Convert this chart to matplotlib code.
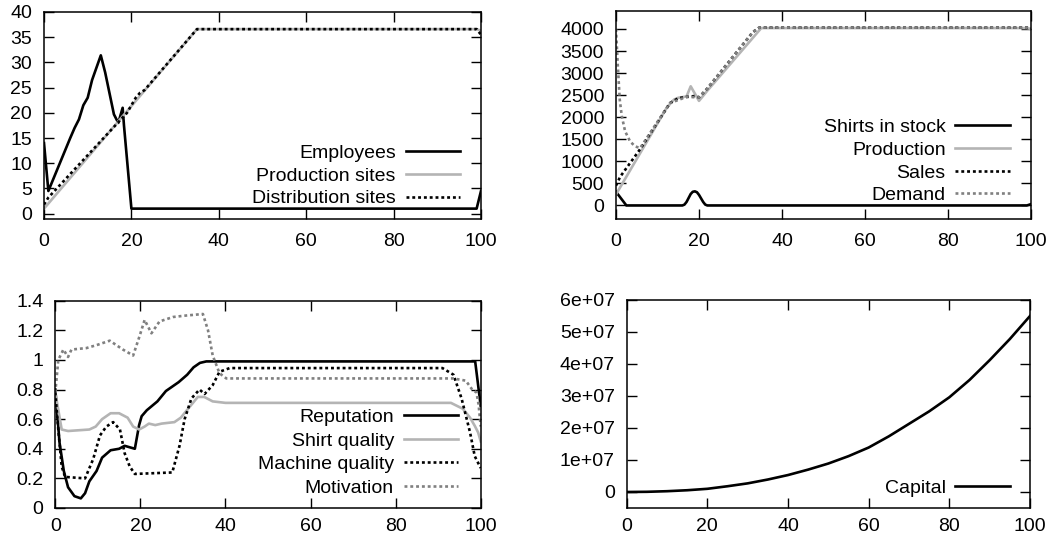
import matplotlib
matplotlib.use("Agg")
import matplotlib.pyplot as plt

plt.rcParams['font.family'] = ['Liberation Sans', 'DejaVu Sans']
plt.rcParams['font.size'] = 14

# --- staff and sites ---
emp_x = [0, 1, 6, 7, 8, 9, 10, 11, 13, 14, 16, 17, 18, 18.3, 20, 99, 100]
emp_y = [14, 4.5, 15, 17, 18.7, 21.5, 23, 26.5, 31.4, 28, 19.7, 18, 21, 17.5, 1, 1, 4.5]
psite_x = [0, 35, 99, 100]
psite_y = [1, 36.6, 36.6, 36.3]
dsite_x = [0, 1, 19, 20, 21, 22, 23, 35, 99, 100]
dsite_y = [1.8, 3.2, 20, 21.5, 23, 24, 24.5, 36.6, 36.6, 35.5]

# --- shirts ---
stock_x = [0, 2.5, 16, 16.5, 17, 17.5, 18, 18.5, 19, 19.5, 20, 20.5, 21, 21.5, 22, 99, 100]
stock_y = [310, 0, 0, 20, 80, 170, 260, 310, 320, 300, 240, 160, 80, 20, 0, 0, 30]
prod_x = [0, 12, 13, 14, 15, 17, 18, 20, 22, 35, 99, 100]
prod_y = [250, 2180, 2300, 2400, 2440, 2470, 2700, 2370, 2600, 4020, 4020, 4000]
sales_x = [0, 1, 6, 13, 15, 17, 19, 20, 21, 22, 33, 34.5, 99, 100]
sales_y = [450, 650, 1300, 2320, 2430, 2460, 2480, 2450, 2550, 2650, 3930, 4030, 4030, 4020]
demand_x = [0, 0.4, 0.9, 1.4, 2.2, 3.4, 4.6, 5.8, 13, 17, 20, 22, 33, 34.5, 99, 100]
demand_y = [4000, 3230, 2400, 2020, 1680, 1450, 1340, 1300, 2320, 2460, 2450, 2650, 3930, 4030, 4030, 4000]

# --- quality indicators ---
rep_x = [0, 1, 2, 3, 4.5, 6, 7, 8, 9.7, 11, 13, 15, 16.3, 18.7, 19.7, 20.3, 21.5, 24, 26, 29, 31,
         32.5, 34, 35.5, 98.7, 100]
rep_y = [0.80, 0.44, 0.25, 0.14, 0.08, 0.065, 0.10, 0.18, 0.25, 0.34, 0.39, 0.40, 0.42, 0.40, 0.56,
         0.62, 0.66, 0.72, 0.79, 0.85, 0.90, 0.95, 0.98, 0.99, 0.99, 0.69]
sq_x = [0, 1.5, 3, 8, 9.5, 11, 13, 15, 17, 18.3, 19.7, 21, 22, 23.5, 25, 28, 29.5, 31.5, 33.5, 35,
        37, 40, 93, 95.8, 97.5, 98.6, 99.4, 100]
sq_y = [0.78, 0.53, 0.52, 0.53, 0.55, 0.60, 0.64, 0.64, 0.61, 0.55, 0.53, 0.55, 0.57, 0.56, 0.57,
        0.58, 0.61, 0.68, 0.75, 0.75, 0.72, 0.71, 0.71, 0.67, 0.61, 0.555, 0.51, 0.45]
mq_x = [0, 0.7, 1.5, 2.3, 7, 8.9, 10.5, 12, 13.6, 15.2, 16.3, 17.5, 18.7, 27.5, 29.2, 30.4, 32,
        33.9, 35.1, 37, 38.6, 41, 91, 93.6, 95.5, 97.5, 98.6, 100]
mq_y = [0.78, 0.53, 0.28, 0.21, 0.20, 0.33, 0.49, 0.55, 0.58, 0.53, 0.37, 0.28, 0.23, 0.24, 0.42,
        0.60, 0.74, 0.80, 0.77, 0.83, 0.92, 0.945, 0.945, 0.90, 0.74, 0.51, 0.35, 0.27]
mot_x = [0, 0.7, 1.9, 3, 3.8, 7.3, 9.7, 12.8, 15.9, 18.3, 19.8, 21, 22.6, 24.5, 27.7, 30.8, 34.7,
         35.9, 37, 38.6, 40.2, 93.5, 96.5, 98, 99, 99.5, 100]
mot_y = [0.78, 1.0, 1.07, 1.02, 1.07, 1.08, 1.10, 1.13, 1.07, 1.03, 1.16, 1.27, 1.18, 1.26, 1.29,
         1.30, 1.31, 1.20, 1.03, 0.91, 0.875, 0.875, 0.86, 0.80, 0.78, 0.70, 0.55]

# --- money ---
cap_x = [0, 5, 10, 15, 20, 25, 30, 35, 40, 45, 50, 55, 60, 65, 70, 75, 80, 85, 90, 95, 100]
cap_y = [0, 0.06e6, 0.25e6, 0.55e6, 1.0e6, 1.8e6, 2.7e6, 3.9e6, 5.3e6, 7.0e6, 8.9e6, 11.2e6,
         13.9e6, 17.4e6, 21.3e6, 25.2e6, 29.6e6, 35.0e6, 41.2e6, 47.8e6, 55.0e6]

x_ticks = [0, 20, 40, 60, 80, 100]

BLACK = '#000000'
LGRAY = '#b4b4b4'
DGRAY = '#808080'
LW = 1.9
DOTS = (0, (1.1, 1.1))


def style(ax, ylim, yticks, xpad):
    ax.set_xlim(0, 100)
    ax.set_ylim(*ylim)
    ax.set_xticks(x_ticks)
    ax.set_yticks(yticks)
    ax.tick_params(direction='in', length=7, width=1.0, top=True, right=True, labelsize=14)
    ax.tick_params(axis='x', pad=xpad)
    ax.tick_params(axis='y', pad=8.5)
    for s in ax.spines.values():
        s.set_linewidth(1.1)


def key(ax, x, y, spacing):
    ax.legend(loc='lower right', bbox_to_anchor=(x, y), frameon=False, markerfirst=False,
              handlelength=2.8, handletextpad=0.5, labelspacing=spacing,
              borderpad=0, borderaxespad=0, fontsize=14)


fig = plt.figure(figsize=(10.52, 5.46), dpi=100)
W, H = 1052, 546
ax1 = fig.add_axes([44 / W, 1 - 218.7 / H, (481 - 44) / W, (218.7 - 12) / H])
ax2 = fig.add_axes([616 / W, 1 - 218.7 / H, (1031 - 616) / W, (218.7 - 11.3) / H])
ax3 = fig.add_axes([55.3 / W, 1 - 508 / H, (480.7 - 55.3) / W, (508 - 300.7) / H])
ax4 = fig.add_axes([626.7 / W, 1 - 508 / H, (1030 - 626.7) / W, (508 - 300) / H])

ax1.plot(emp_x, emp_y, color=BLACK, lw=LW, label='Employees')
ax1.plot(psite_x, psite_y, color=LGRAY, lw=LW, label='Production sites')
ax1.plot(dsite_x, dsite_y, color=BLACK, lw=LW, ls=DOTS, label='Distribution sites')
style(ax1, (-1, 40), range(0, 41, 5), 10)
key(ax1, 0.952, 0.055, 0.26)

ax2.plot(stock_x, stock_y, color=BLACK, lw=LW, label='Shirts in stock')
ax2.plot(prod_x, prod_y, color=LGRAY, lw=LW, label='Production')
ax2.plot(sales_x, sales_y, color=BLACK, lw=LW, ls=DOTS, label='Sales')
ax2.plot(demand_x, demand_y, color=DGRAY, lw=LW, ls=DOTS, label='Demand')
style(ax2, (-300, 4400), range(0, 4001, 500), 10)
key(ax2, 0.949, 0.07, 0.26)

ax3.plot(rep_x, rep_y, color=BLACK, lw=LW, label='Reputation')
ax3.plot(sq_x, sq_y, color=LGRAY, lw=LW, label='Shirt quality')
ax3.plot(mq_x, mq_y, color=BLACK, lw=LW, ls=DOTS, label='Machine quality')
ax3.plot(mot_x, mot_y, color=DGRAY, lw=LW, ls=DOTS, label='Motivation')
style(ax3, (0, 1.4), [0, 0.2, 0.4, 0.6, 0.8, 1, 1.2, 1.4], 7.5)
ax3.set_yticklabels(['0', '0.2', '0.4', '0.6', '0.8', '1', '1.2', '1.4'])
key(ax3, 0.947, 0.055, 0.3)

ax4.plot(cap_x, cap_y, color=BLACK, lw=LW, label='Capital')
style(ax4, (-5e6, 6e7), [0, 1e7, 2e7, 3e7, 4e7, 5e7, 6e7], 7.5)
ax4.set_yticklabels(['0', '1e+07', '2e+07', '3e+07', '4e+07', '5e+07', '6e+07'])
key(ax4, 0.950, 0.055, 0.3)

fig.savefig('out.png', dpi=100)
